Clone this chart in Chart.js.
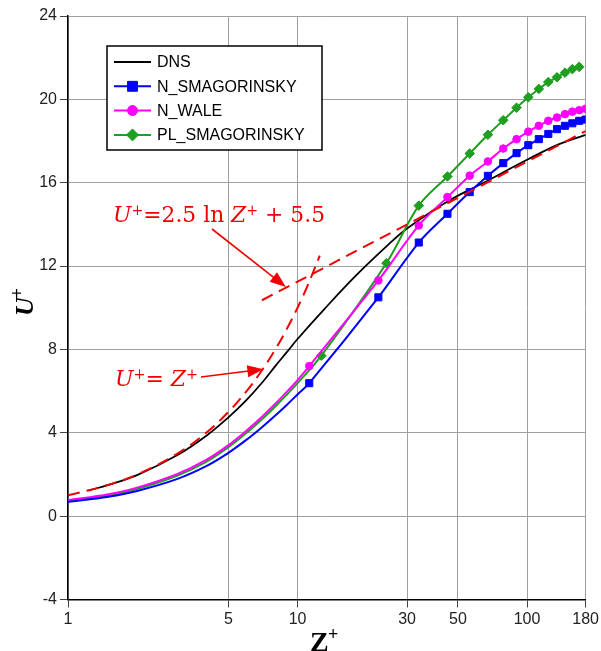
<!DOCTYPE html>
<html>
<head>
<meta charset="utf-8">
<script src="https://cdn.jsdelivr.net/npm/chart.js@4"></script>
<style>
  body { margin: 0; background: #fff; }
</style>
</head>
<body>
<canvas id="chart" width="601" height="651"></canvas>
<script>
// tick labels
const xTicks = [1, 5, 10, 30, 50, 100, 180];
const yMin = -4, yMax = 24, yStep = 4;

// DNS profile
const dnsZ = [1.23, 1.5, 2, 3, 4, 5, 6, 7, 8, 9, 10, 13, 18, 25, 30, 45, 66, 100, 138, 180];
const dnsU = [1.23, 1.5, 1.97, 2.93, 3.85, 4.74, 5.58, 6.4, 7.2, 7.88, 8.5, 9.9, 11.55, 13.05, 13.8, 15.1, 16.05, 17.1, 17.85, 18.3];

// LES runs (markers only on the grid points above z+ ~ 11)
const nSmagZ = [1, 1.5, 2, 3, 4, 5, 6, 7, 8, 9, 10, 11.25, 22.5, 33.75, 45, 56.25, 67.5, 78.75, 90, 101.25, 112.5, 123.75, 135, 146.25, 157.5, 168.75, 180];
const nSmagU = [0.68, 0.93, 1.21, 1.79, 2.4, 3.04, 3.67, 4.27, 4.83, 5.35, 5.84, 6.38, 10.5, 13.13, 14.51, 15.55, 16.33, 16.94, 17.42, 17.8, 18.09, 18.34, 18.57, 18.73, 18.85, 18.97, 19.03];

const nWaleZ = [1, 1.5, 2, 3, 4, 5, 6, 7, 8, 9, 10, 11.25, 22.5, 33.75, 45, 56.25, 67.5, 78.75, 90, 101.25, 112.5, 123.75, 135, 146.25, 157.5, 168.75, 180];
const nWaleU = [0.76, 1.05, 1.37, 2.03, 2.7, 3.41, 4.11, 4.77, 5.39, 5.98, 6.53, 7.2, 11.31, 13.95, 15.31, 16.34, 17.02, 17.64, 18.09, 18.45, 18.73, 18.97, 19.13, 19.29, 19.41, 19.48, 19.55];

const plSmagZ = [1, 1.5, 2, 3, 4, 5, 6, 7, 8, 9, 10, 12.7, 24.4, 33.75, 45, 56.25, 67.5, 78.75, 90, 101.25, 112.5, 123.75, 135, 146.25, 157.5, 168.75];
const plSmagU = [0.72, 0.99, 1.3, 1.95, 2.61, 3.31, 4.0, 4.65, 5.26, 5.84, 6.38, 7.7, 12.14, 14.9, 16.3, 17.4, 18.3, 19.0, 19.6, 20.1, 20.5, 20.83, 21.06, 21.28, 21.45, 21.56];

// reference laws (dashed red)
const viscZ = [1, 1.5, 2, 3, 4, 5, 6, 7, 8, 9, 10, 11, 12.5];
const viscU = [1, 1.5, 2, 3, 4, 5, 6, 7, 8, 9, 10, 11, 12.5];
const logZ = [7, 180];
const logU = [10.36, 18.48];

const pts = (xs, ys) => xs.map((x, i) => ({ x: x, y: ys[i] }));
const markerOn = r => ctx => (ctx.raw && ctx.raw.x > 10.5 ? r : 0);

const red = '#f00000';

const datasets = [
  { label: 'visc', data: pts(viscZ, viscU), borderColor: red, borderWidth: 2, borderDash: [12, 7], pointRadius: 0, tension: 0.4 },
  { label: 'log', data: pts(logZ, logU), borderColor: red, borderWidth: 2, borderDash: [12, 7], pointRadius: 0 },
  { label: 'N_SMAGORINSKY', data: pts(nSmagZ, nSmagU), borderColor: '#0000ff', backgroundColor: '#0000ff', borderWidth: 2,
    pointStyle: 'rect', pointRadius: markerOn(5), pointBorderWidth: 1, tension: 0.35, legendR: 7 },
  { label: 'N_WALE', data: pts(nWaleZ, nWaleU), borderColor: '#ff00ff', backgroundColor: '#ff00ff', borderWidth: 2,
    pointStyle: 'circle', pointRadius: markerOn(3.8), pointBorderWidth: 1, tension: 0.35, legendR: 5 },
  { label: 'PL_SMAGORINSKY', data: pts(plSmagZ, plSmagU), borderColor: '#1f9f1f', backgroundColor: '#1f9f1f', borderWidth: 2,
    pointStyle: 'rectRot', pointRadius: markerOn(4.8), pointBorderWidth: 1, tension: 0.35, legendR: 6 },
  { label: 'DNS', data: pts(dnsZ, dnsU), borderColor: '#000', borderWidth: 1.8, pointRadius: 0, tension: 0.4 }
];

const legendOrder = ['DNS', 'N_SMAGORINSKY', 'N_WALE', 'PL_SMAGORINSKY'];

function drawParts(ctx, parts, x, y, width) {
  let total = 0;
  parts.forEach(p => { ctx.font = p.font; p.w = ctx.measureText(p.t).width; total += p.w; });
  const k = width ? width / total : 1;
  ctx.save();
  ctx.translate(x, y);
  ctx.scale(k, 1);
  let cx = 0;
  parts.forEach(p => { ctx.font = p.font; ctx.fillText(p.t, cx, p.dy || 0); cx += p.w; });
  ctx.restore();
}

function arrow(ctx, x1, y1, x2, y2) {
  const a = Math.atan2(y2 - y1, x2 - x1), L = 16, W = 6;
  const c = Math.cos(a), s = Math.sin(a);
  ctx.beginPath();
  ctx.moveTo(x1, y1);
  ctx.lineTo(x2 - L * 0.8 * c, y2 - L * 0.8 * s);
  ctx.stroke();
  ctx.beginPath();
  ctx.moveTo(x2, y2);
  ctx.lineTo(x2 - L * c + W * s, y2 - L * s - W * c);
  ctx.lineTo(x2 - L * c - W * s, y2 - L * s + W * c);
  ctx.closePath();
  ctx.fill();
}

const extras = {
  id: 'extras',
  afterDraw(chart) {
    const ctx = chart.ctx;
    const xs = chart.scales.x, ys = chart.scales.y;
    const px = v => xs.getPixelForValue(v), py = v => ys.getPixelForValue(v);
    ctx.save();
    ctx.textBaseline = 'alphabetic';
    ctx.textAlign = 'left';

    // annotations
    ctx.fillStyle = red;
    ctx.strokeStyle = red;
    ctx.lineWidth = 1.6;
    const it = 'italic 23px "DejaVu Serif"', up = '23px "DejaVu Serif"', sup = '15px "DejaVu Serif"';
    drawParts(ctx, [
      { t: 'U', font: it }, { t: '+', font: sup, dy: -7 }, { t: '=2.5 ln ', font: up },
      { t: 'Z', font: it }, { t: '+', font: sup, dy: -7 }, { t: ' + 5.5', font: up }
    ], 113, 222, 212);
    drawParts(ctx, [
      { t: 'U', font: it }, { t: '+', font: sup, dy: -7 }, { t: '= ', font: up },
      { t: 'Z', font: it }, { t: '+', font: sup, dy: -7 }
    ], 115, 386, 83);
    arrow(ctx, 212, 229, px(8.9), py(11.0));
    arrow(ctx, 201, 377, px(7.1), py(7.05));

    // axis titles
    ctx.fillStyle = '#000';
    ctx.font = 'bold 28px "Liberation Serif"';
    ctx.fillText('Z', 310, 651);
    ctx.font = 'bold 18px "Liberation Serif"';
    ctx.fillText('+', 328, 640);

    ctx.save();
    ctx.translate(33, 316);
    ctx.rotate(-Math.PI / 2);
    ctx.font = 'bold italic 26px "Liberation Serif"';
    ctx.fillText('U', 0, 0);
    const wU = ctx.measureText('U').width;
    ctx.font = 'bold 18px "Liberation Serif"';
    ctx.fillText('+', wU - 1, -10);
    ctx.restore();

    // legend box
    const bx = 107, by = 46, bw = 215, bh = 104;
    ctx.fillStyle = '#fff';
    ctx.fillRect(bx, by, bw, bh);
    ctx.strokeStyle = '#000';
    ctx.lineWidth = 1.5;
    ctx.strokeRect(bx, by, bw, bh);
    ctx.font = '16px "Liberation Sans", Arial';
    ctx.textBaseline = 'middle';
    legendOrder.forEach((name, i) => {
      const ds = chart.data.datasets.find(d => d.label === name);
      const y = 62 + i * 24.3;
      ctx.strokeStyle = ds.borderColor;
      ctx.lineWidth = ds.borderWidth;
      ctx.beginPath();
      ctx.moveTo(114, y);
      ctx.lineTo(151, y);
      ctx.stroke();
      if (ds.legendR) {
        ctx.fillStyle = ds.backgroundColor;
        ctx.lineWidth = 1;
        Chart.helpers.drawPoint(ctx, { pointStyle: ds.pointStyle, radius: ds.legendR, rotation: 0, borderWidth: 1 }, 132.5, y);
      }
      ctx.fillStyle = '#000';
      ctx.fillText(name, 157, y + 1);
    });
    ctx.restore();
  }
};

new Chart(document.getElementById('chart'), {
  type: 'line',
  data: { datasets: datasets },
  options: {
    responsive: false,
    animation: false,
    events: [],
    layout: { padding: { top: 16, right: 15, left: 0, bottom: 0 } },
    plugins: { legend: { display: false }, tooltip: { enabled: false } },
    scales: {
      x: {
        type: 'logarithmic',
        min: 1,
        max: 180,
        afterBuildTicks: axis => { axis.ticks = xTicks.map(v => ({ value: v })); },
        afterFit: axis => { axis.height = 51.5; },
        ticks: {
          autoSkip: false,
          maxRotation: 0,
          padding: 2,
          color: '#222',
          font: { family: '"Liberation Sans", Arial', size: 16 },
          callback: v => String(v)
        },
        grid: { color: '#a0a0a0', lineWidth: 1, tickLength: 8, tickColor: '#444' },
        border: { color: '#000', width: 1.5 }
      },
      y: {
        min: yMin,
        max: yMax,
        afterFit: axis => { axis.width = 68; },
        ticks: {
          stepSize: yStep,
          padding: 3,
          color: '#222',
          font: { family: '"Liberation Sans", Arial', size: 16 }
        },
        grid: { color: '#a0a0a0', lineWidth: 1, tickLength: 8, tickColor: '#444' },
        border: { color: '#000', width: 1.5 }
      }
    }
  },
  plugins: [extras]
});
</script>
</body>
</html>
